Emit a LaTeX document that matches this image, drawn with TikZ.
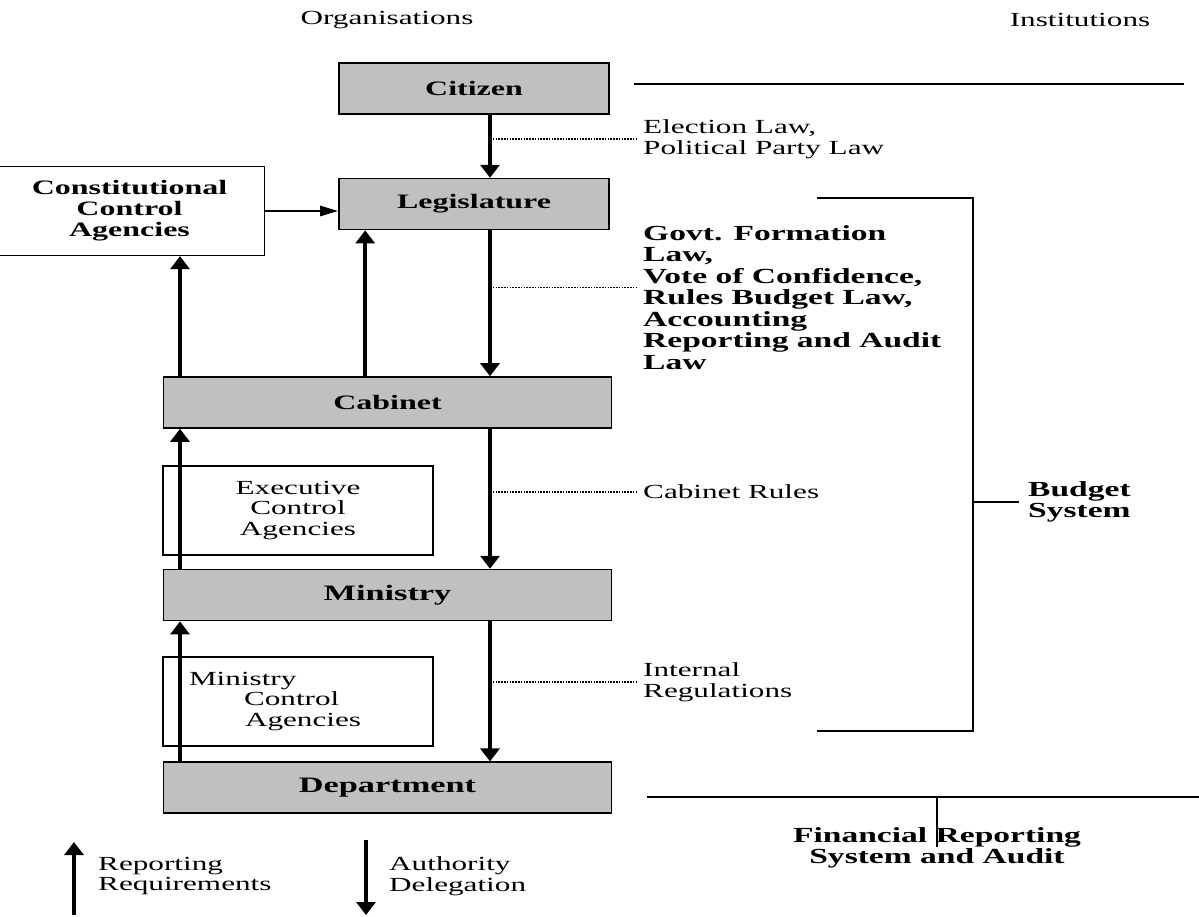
\documentclass[tikz,border=0pt]{standalone}
\usepackage{fontspec}
\setmainfont{Liberation Serif}[FakeStretch=1.56]
\usetikzlibrary{positioning,arrows.meta}
\definecolor{boxgray}{RGB}{192,192,192}
\tikzset{
  org/.style={draw, line width=1.6pt, fill=boxgray, minimum width=270pt, minimum height=51pt, inner sep=0pt, font=\fontsize{20.5}{22}\selectfont\bfseries},
  wideorg/.style={org, minimum width=448pt},
  bigorg/.style={wideorg, font=\fontsize{22}{24}\selectfont\bfseries},
  ctl/.style={draw, line width=1.3pt, minimum width=270pt, minimum height=89pt, inner sep=0pt, align=center},
  law/.style={inner sep=0pt, align=left, anchor=west},
  lawbold/.style={law, font=\fontsize{21.5}{21.5}\selectfont\bfseries},
  vflow/.style={line width=3.5pt, -{Triangle[length=13pt,width=19pt]}},
  hflow/.style={line width=2.5pt, -{Triangle[length=18pt,width=10pt]}},
  link/.style={line width=1.6pt, dash pattern=on 1.6pt off 1.2pt},
  rule/.style={line width=1.3pt}
}
\begin{document}
\begin{tikzpicture}[x=1pt, y=-1pt, font=\fontsize{20}{20.5}\selectfont]
\useasboundingbox (0,0) rectangle (1199,917);
\node (orgs) at (387,20) {Organisations};
\node (insts) at (1080,20) {Institutions};

\node[org] (citizen) at (474,88.5) {Citizen};
\node[org, below=63pt of citizen] (legis) {Legislature};
\node[wideorg] (cabinet) at (387.5,402.5) {Cabinet};
\node[bigorg, below=140pt of cabinet] (ministry) {Ministry};
\node[bigorg, below=140pt of ministry] (dept) {Department};

\node[ctl, font=\fontsize{20.5}{21}\selectfont\bfseries] (cca) at (129.5,211) {Constitutional\\Control\\Agencies};
\node[ctl] (eca) at (298,510.5) {Executive\\Control\\Agencies};
\node[ctl, align=left, text width=218pt, inner xsep=26pt] (mca) at (298,701.5) {Ministry\\\hspace*{55pt}Control\\\hspace*{56pt}Agencies};

\coordinate (authx) at (490,0);
\coordinate (repx) at (180,0);
\draw[vflow] (citizen.south -| authx) -- (legis.north -| authx);
\draw[vflow] (legis.south -| authx) -- (cabinet.north -| authx);
\draw[vflow] (cabinet.south -| authx) -- (ministry.north -| authx);
\draw[vflow] (ministry.south -| authx) -- (dept.north -| authx);
\draw[vflow] (cabinet.north -| repx) -- (cca.south -| repx);
\draw[vflow] (ministry.north -| repx) -- (cabinet.south -| repx);
\draw[vflow] (dept.north -| repx) -- (ministry.south -| repx);
\draw[vflow] ([xshift=27pt]legis.south west |- cabinet.north) -- ([xshift=27pt]legis.south west);
\draw[hflow] (cca.east) -- (cca.east -| legis.west);

\node[law] (elect) at (643,139) {Election Law,\\Political Party Law};
\node[lawbold] (govt) at (643,297.5) {Govt. Formation\\Law,\\Vote of Confidence,\\Rules Budget Law,\\Accounting\\Reporting and Audit\\Law};
\node[law] (cabrules) at (643,492) {Cabinet Rules};
\node[law] (intreg) at (643,682) {Internal\\Regulations};
\draw[link] (elect.west -| authx) -- ([xshift=-6pt]elect.west);
\draw[link] ([yshift=10pt]govt.west -| authx) -- ([xshift=-6pt,yshift=10pt]govt.west);
\draw[link] (cabrules.west -| authx) -- ([xshift=-6pt]cabrules.west);
\draw[link] (intreg.west -| authx) -- ([xshift=-6pt]intreg.west);

\coordinate (btop) at (817,198);
\coordinate (bbot) at (817,731);
\coordinate (brk) at (973,0);
\node[lawbold] (budget) at (1028,502) {Budget\\System};
\draw[rule] (btop) -- (btop -| brk) -- (bbot -| brk) -- (bbot);
\draw[rule] (budget.west -| brk) -- ([xshift=-9pt]budget.west);

\draw[rule] ([xshift=24pt,yshift=4.5pt]citizen.east) -- ++(550,0);
\coordinate (fl) at (647,797);
\coordinate (fr) at (1199,797);
\node[lawbold, anchor=center, align=center] (frs) at (937,848) {Financial Reporting\\System and Audit};
\draw[rule] (fl) -- (fr);
\draw[line width=1.4pt] (fl -| frs) -- ++(0,50);

\node[law] (rep) at (98,876) {Reporting\\Requirements};
\node[law] (auth) at (389,876) {Authority\\Delegation};
\draw[vflow] ([xshift=-24pt,yshift=-39pt]rep.west) -- ([xshift=-24pt,yshift=34pt]rep.west);
\draw[vflow] ([xshift=-23pt,yshift=36pt]auth.west) -- ([xshift=-23pt,yshift=-39pt]auth.west);
\end{tikzpicture}
\end{document}
